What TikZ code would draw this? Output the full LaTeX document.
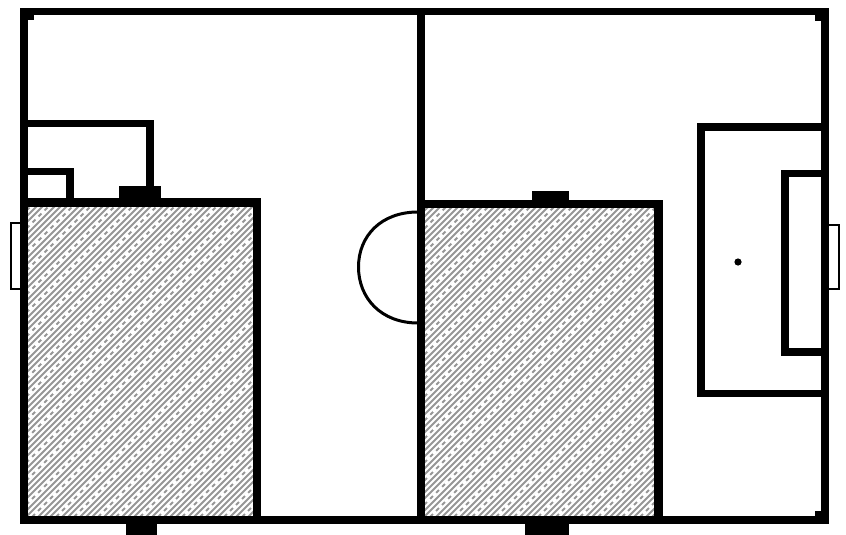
\documentclass[tikz,border=0pt]{standalone}
\usepackage{tikz}
\definecolor{hatchgrey}{RGB}{150,150,150}

\begin{document}
\begin{tikzpicture}[
  x=1pt, y=-1pt,
  pitchline/.style={draw=black, line width=7.5pt, line join=miter},
  boxline/.style={draw=black, line width=8.5pt, line join=miter},
  thinline/.style={draw=black, line width=1.6pt},
  arcline/.style={draw=black, line width=3pt},
  stand/.style={fill=black},
  hatchline/.style={draw=hatchgrey, line width=2pt},
  hatchgap/.style={draw=white, line width=2.6pt, dash pattern=on 4.2pt off 4.3pt},
]
\useasboundingbox (0,0) rectangle (846,535);

% ===================== hatched halves =====================
\foreach \xa/\ya/\xb/\yb in {27/206/254/517, 425/208/654/517} {
  \begin{scope}
    \clip (\xa,\ya) rectangle (\xb,\yb);
    \foreach \k in {0,...,95} {
      \pgfmathsetmacro{\cx}{\xa-310+6*\k}
      \pgfmathsetmacro{\cy}{\cx+320}
      \draw[hatchline] (\cx,520) -- (\cy,200);
      \pgfmathtruncatemacro{\kmod}{mod(\k,7)}
      \ifnum\kmod=0
        \draw[hatchgap] (\cx,520) -- (\cy,200);
      \fi
      \ifnum\kmod=3
        \draw[hatchgap] (\cx,520) -- (\cy,200);
      \fi
    }
  \end{scope}
}

% ===================== goals =====================
\draw[thinline] (21,223) -- (11,223) -- (11,289) -- (21,289);
\draw[thinline] (828,225) -- (839,225) -- (839,289) -- (828,289);

% ===================== left half boxes =====================
\draw[pitchline] (24,123.5) -- (150,123.5) -- (150,202);
\draw[pitchline] (24,171.5) -- (70,171.5) -- (70,202);
\draw[boxline] (24,202.5) rectangle (257,520);

% ===================== right half boxes =====================
\draw[pitchline] (825,127) -- (701,127) -- (701,393.5) -- (825,393.5);
\draw[pitchline] (825,173.5) -- (785,173.5) -- (785,352) -- (825,352);
\draw[boxline] (421,204) rectangle (658.5,520);

% ===================== outline and halfway line =====================
\draw[pitchline] (24,11.5) rectangle (825,520);
\draw[pitchline] (421,11.5) -- (421,520);

% centre arc and spot
\draw[arcline] (418,212) .. controls (381,212) and (358.5,236) .. (358.5,267)
  .. controls (358.5,298) and (381,323) .. (418,323);
\fill[black] (738,262) circle (3.6pt);

% ===================== black marks =====================
\fill[stand] (119,186) rectangle (161,199);
\fill[stand] (532,191) rectangle (569,201);
\fill[stand] (126,523) rectangle (157,535);
\fill[stand] (525,523) rectangle (569,535);

% corner notches
\fill[black] (28,15) rectangle (34,20);
\fill[black] (815,15) rectangle (821,21);
\fill[black] (815,511) rectangle (821,517);

\end{tikzpicture}
\end{document}
